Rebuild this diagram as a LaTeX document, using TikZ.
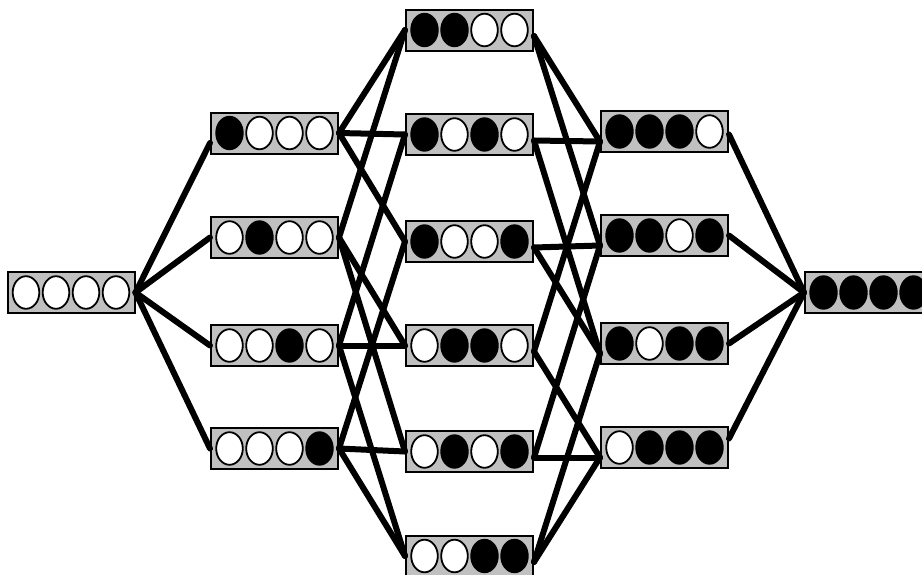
\documentclass[tikz,border=0pt]{standalone}
\usetikzlibrary{calc}
\definecolor{boxgray}{RGB}{192,192,192}
\tikzset{
  sbox/.style={rectangle, draw=black, line width=2pt, fill=boxgray,
    minimum width=127pt, minimum height=41pt, inner sep=0pt},
  link/.style={line width=6pt, line cap=round},
  cellc/.style={draw=black, line width=1.8pt},
}
\newcommand\statebox[3]{%
  \node[sbox] (#1) at (#2) {};
  \foreach \b [count=\i] in {#3}{%
    \ifnum\b=1 \def\cc{black}\else\def\cc{white}\fi
    \path[cellc, fill=\cc] ($(#1.center)+(\i*30-75,0)$) ellipse [x radius=13.3pt, y radius=16.3pt];
  }%
}
\begin{document}
\begin{tikzpicture}[x=1pt, y=-1pt]
\clip (0,0) rectangle (922,574);
\fill[white] (0,0) rectangle (922,574);
\statebox{L}{71,292.5}{0,0,0,0}
\statebox{A1}{274.5,133}{1,0,0,0}
\statebox{A2}{274.5,237.5}{0,1,0,0}
\statebox{A3}{274.5,345.5}{0,0,1,0}
\statebox{A4}{274.5,448.5}{0,0,0,1}
\statebox{B1}{469.5,30}{1,1,0,0}
\statebox{B2}{469.5,134.5}{1,0,1,0}
\statebox{B3}{469.5,241.5}{1,0,0,1}
\statebox{B4}{469.5,345.5}{0,1,1,0}
\statebox{B5}{469.5,451.5}{0,1,0,1}
\statebox{B6}{469.5,556}{0,0,1,1}
\statebox{C1}{664.5,131.5}{1,1,1,0}
\statebox{C2}{664.5,235.5}{1,1,0,1}
\statebox{C3}{664.5,343.5}{1,0,1,1}
\statebox{C4}{664.5,447.5}{0,1,1,1}
\statebox{R}{868.5,292.5}{1,1,1,1}
% level 0 -> 1
\draw[link] (L.east) -- ([yshift=-10pt]A1.west);
\foreach \a in {A2,A3,A4} \draw[link] (L.east) -- (\a.west);
% level 1 -> 2
\foreach \a/\b in {A1/B1,A1/B2,A1/B3,A2/B1,A2/B4,A2/B5,A3/B2,A3/B4,A3/B6,A4/B3,A4/B5,A4/B6}
  \draw[link] (\a.east) -- (\b.west);
% level 2 -> 3
\foreach \a/\b in {B1/C1,B1/C2,B2/C1,B2/C3,B3/C2,B3/C3,B4/C1,B4/C4,B5/C2,B5/C4,B6/C3,B6/C4}
  \draw[link] ([yshift=-6pt]\a.east) -- ([yshift=-10pt]\b.west);
% level 3 -> 4
\draw[link] ([yshift=-3pt]C1.east) -- (R.west);
\draw[link] (C2.east) -- (R.west);
\draw[link] (C3.east) -- (R.west);
\draw[link] ([yshift=9pt]C4.east) -- (R.west);
\end{tikzpicture}
\end{document}
